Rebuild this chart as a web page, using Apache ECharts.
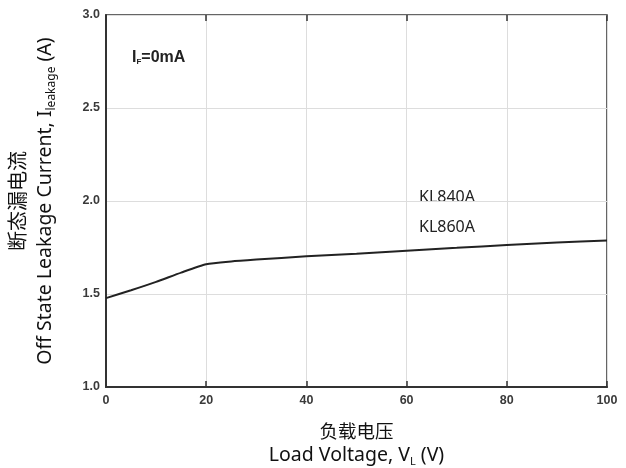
<!DOCTYPE html>
<html><head><meta charset="utf-8">
<script src="https://cdn.jsdelivr.net/npm/echarts@6/dist/echarts.min.js"></script>
<style>html,body{margin:0;padding:0;background:#fff}#c{width:626px;height:468px}</style>
</head><body><div id="c"></div>
<script>
const xTicks = [0, 20, 40, 60, 80, 100];
const yTicks = [1.0, 1.5, 2.0, 2.5, 3.0];
const voltage = [0, 5, 10, 15, 20, 25, 30, 40, 50, 60, 70, 80, 90, 100];
const leakage = [1.478, 1.52, 1.565, 1.615, 1.66, 1.675, 1.685, 1.703, 1.717, 1.733, 1.748, 1.763, 1.777, 1.787];
const seriesLabels = ['KL840A', 'KL860A'];

const chart = echarts.init(document.getElementById('c'));
const font = '"Noto Sans","Noto Sans CJK SC",sans-serif';
const tickFont = {fontFamily: 'Liberation Sans, Arial, sans-serif', fontWeight: 'bold', fontSize: 12.5, color: '#3a3a3a'};
const bold = 'Liberation Sans, Arial, sans-serif';
chart.setOption({
  animation: false,
  grid: {left: 106, top: 15, right: 19, bottom: 81, show: true, borderColor: '#333', borderWidth: 1.5,
         containLabel: false, outerBoundsMode: 'none'},
  xAxis: [{
    type: 'value', min: xTicks[0], max: xTicks[xTicks.length-1], interval: 20,
    axisLine: {show: true, lineStyle: {color: '#333', width: 2}},
    axisTick: {show: true, inside: true, length: 6, lineStyle: {color: '#333', width: 1.5}},
    axisLabel: Object.assign({margin: 7}, tickFont),
    splitLine: {show: true, lineStyle: {color: '#ddd', width: 1}},
    name: '{cn|负载电压}\n{en|Load Voltage, V}{sub|L}{en| (V)}',
    nameLocation: 'middle', nameGap: 34,
    nameTextStyle: {rich: {
      cn: {fontFamily: font, fontSize: 18.5, color: '#111', lineHeight: 23},
      en: {fontFamily: font, fontSize: 19.5, color: '#111', lineHeight: 23},
      sub: {fontFamily: font, fontSize: 11, color: '#111', verticalAlign: 'bottom', lineHeight: 19}
    }}
  }, {
    type: 'value', position: 'top', min: xTicks[0], max: xTicks[xTicks.length-1], interval: 20,
    axisLine: {show: false},
    axisTick: {show: true, inside: true, length: 6, lineStyle: {color: '#333', width: 1.5}},
    axisLabel: {show: false}, splitLine: {show: false}
  }],
  yAxis: {
    type: 'value', min: yTicks[0], max: yTicks[yTicks.length-1], interval: 0.5,
    axisLine: {show: true, lineStyle: {color: '#333', width: 2}},
    axisTick: {show: false},
    axisLabel: Object.assign({margin: 6, formatter: v => v.toFixed(1)}, tickFont),
    splitLine: {show: true, lineStyle: {color: '#ddd', width: 1}},
    name: '{cn|断态漏电流}\n{en|Off State Leakage Current, I}{sub|leakage}{en| (A)}',
    nameLocation: 'middle', nameGap: 48, nameRotate: 90,
    nameTextStyle: {rich: {
      cn: {fontFamily: font, fontSize: 20, color: '#111', lineHeight: 26},
      en: {fontFamily: font, fontSize: 19.5, color: '#111', lineHeight: 26},
      sub: {fontFamily: font, fontSize: 12, color: '#111', verticalAlign: 'bottom', lineHeight: 21}
    }}
  },
  series: [{
    type: 'line', data: voltage.map((v, i) => [v, leakage[i]]),
    showSymbol: false, smooth: 0.2,
    lineStyle: {color: '#222', width: 2}
  }],
  graphic: [
    {type: 'text', left: 132, top: 50, style: {
      text: '{b|I}{s|F}{b|=0mA}',
      rich: {b: {fontFamily: bold, fontWeight: 'bold', fontSize: 16, fill: '#222'},
             s: {fontFamily: bold, fontWeight: 'bold', fontSize: 8, fill: '#222', verticalAlign: 'bottom', lineHeight: 14}}
    }},
    {type: 'text', left: 419, top: 189, style: {text: seriesLabels[0], font: '16px ' + font, fill: '#222'}},
    {type: 'text', left: 419, top: 219, style: {text: seriesLabels[1], font: '16px ' + font, fill: '#222'}}
  ]
});
</script></body></html>
